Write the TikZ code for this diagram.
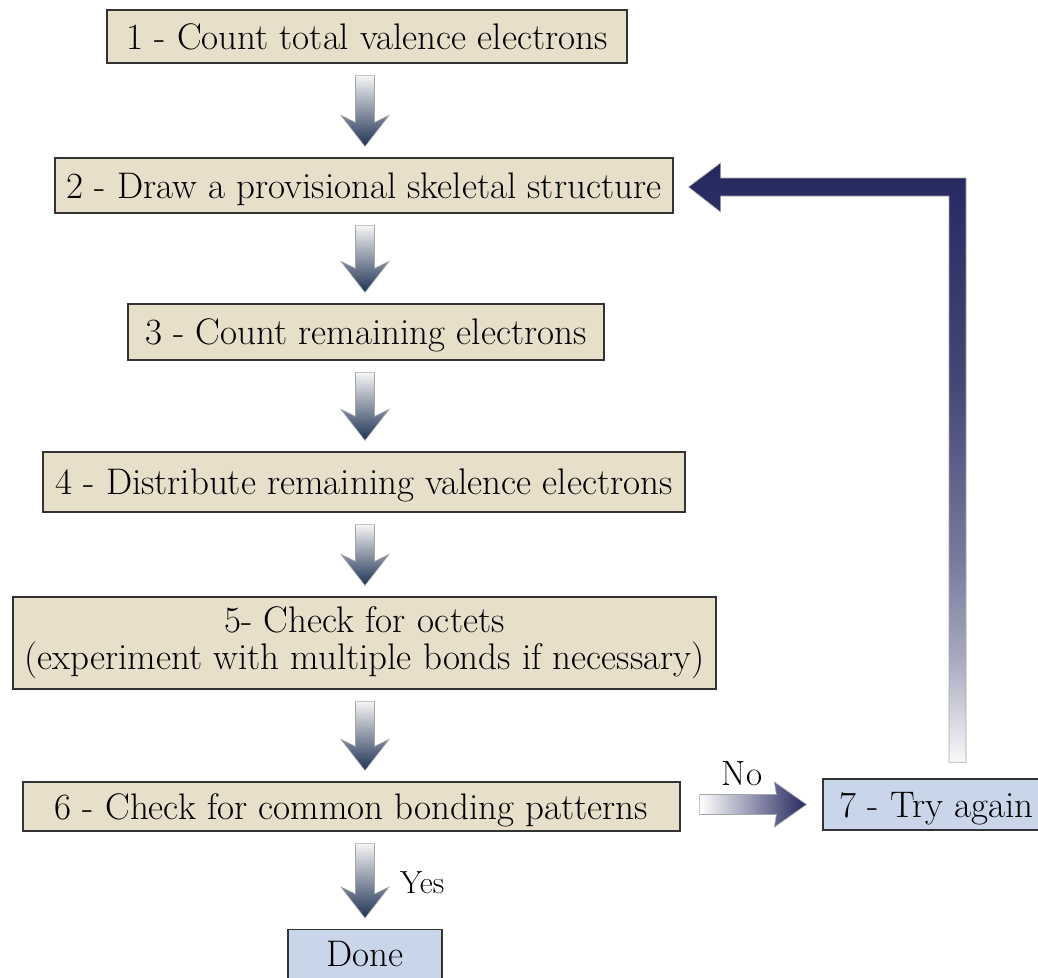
\documentclass[tikz,border=0pt]{standalone}
\usetikzlibrary{calc}
\definecolor{tanfill}{HTML}{E8DFCB}
\definecolor{lbluefill}{HTML}{C9D5E9}
\definecolor{arrnavy}{HTML}{1F3354}
\definecolor{fbnavy}{HTML}{25285F}
\colorlet{fbA}{fbnavy!40!white}
\colorlet{fbB}{fbnavy!62!white}
\colorlet{fbC}{fbnavy!86!white}
\colorlet{fbW}{fbnavy!3!white}
\pgfdeclareverticalshading{fbgrad}{100bp}{color(0bp)=(fbW); color(25bp)=(fbW); color(33.6bp)=(fbA); color(42bp)=(fbB); color(57bp)=(fbC); color(75bp)=(fbnavy); color(100bp)=(fbnavy)}
\newcommand\flowdown[2]{%
  \path[downshade] let \p1=(ax |- #1.south), \p2=(ax |- #2.north) in
    (\x1-9.5pt,\y1-12pt) -- (\x1+9.5pt,\y1-12pt) -- (\x1+9.5pt,\y2+35pt)
    -- (\x1+24pt,\y2+42pt) -- (\x1,\y2+11pt) -- (\x1-24pt,\y2+42pt)
    -- (\x1-9.5pt,\y2+35pt) -- cycle;}
\begin{document}
\begin{tikzpicture}[x=1pt,y=-1pt,
  box/.style={draw=black!80, line width=1.2pt, inner sep=0pt,
    font=\fontsize{37}{33}\selectfont, align=center},
  one/.style={text height=25pt, text depth=0pt},
  tanbox/.style={box, fill=tanfill},
  bluebox/.style={box, fill=lbluefill},
  downshade/.style={draw=black!35, line width=0.6pt, top color=black!4, bottom color=arrnavy},
  noshade/.style={draw=black!35, line width=0.6pt, left color=white, right color=fbnavy},
  fbshade/.style={draw=black!35, line width=0.6pt, shading=fbgrad},
  lbl/.style={inner sep=0pt}]
\useasboundingbox (0,0) rectangle (1038,977);
\coordinate (ax) at (365,0);
\coordinate (fb) at (957.5,0);
\node[tanbox,one,minimum width=520pt,minimum height=53pt] (b1) at (367,36.5) {1 - Count total valence electrons};
\node[tanbox,one,minimum width=618pt,minimum height=55pt] (b2) at (364,185.5) {2 - Draw a provisional skeletal structure};
\node[tanbox,one,minimum width=476pt,minimum height=56pt] (b3) at (366,332) {3 - Count remaining electrons};
\node[tanbox,one,minimum width=642pt,minimum height=60pt] (b4) at (364,482) {4 - Distribute remaining valence electrons};
\node[tanbox,font=\fontsize{37}{37}\selectfont,minimum width=703pt,minimum height=92pt] (b5) at (364.5,643) {5- Check for octets\\(experiment with multiple bonds if necessary)};
\node[tanbox,one,minimum width=657pt,minimum height=49pt] (b6) at (351.5,806.5) {6 - Check for common bonding patterns};
\node[bluebox,one,minimum width=227pt,minimum height=51pt] (b7) at (936.5,804.5) {7 - Try again};
\node[bluebox,text height=25pt,text depth=12pt,minimum width=154pt,minimum height=61pt,anchor=north] (done) at (365,929) {Done};
\flowdown{b1}{b2}
\flowdown{b2}{b3}
\flowdown{b3}{b4}
\flowdown{b4}{b5}
\flowdown{b5}{b6}
\flowdown{b6}{done}
% No arrow
\path[noshade] let \p1=(b6.east |- b7.west), \p2=(b7.west) in
  (\x1+19pt,\y2+10pt) -- (\x2-46pt,\y2+10pt) -- (\x2-48pt,\y2+22.5pt)
  -- (\x2-16pt,\y2) -- (\x2-48pt,\y2-22.5pt) -- (\x2-46pt,\y2-10pt)
  -- (\x1+19pt,\y2-10pt) -- cycle;
\node[lbl,font=\fontsize{35}{35}\selectfont,anchor=base] (no) at (742,785) {No};
\node[lbl,font=\fontsize{32}{32}\selectfont,anchor=base west] (yes) at (400,893) {Yes};
% feedback arrow
\path[fbshade] let \p1=(fb |- b7.north), \p2=(b2.east) in
  (\x1-8.5pt,\y1+16pt) -- (\x1-8.5pt,\y2-10.5pt) -- (\x2+47pt,\y2-10.5pt)
  -- (\x2+47pt,\y2-26.5pt) -- (\x2+15pt,\y2-1.5pt) -- (\x2+47pt,\y2+22.5pt)
  -- (\x2+47pt,\y2+7.5pt) -- (\x1+8.5pt,\y2+7.5pt) -- (\x1+8.5pt,\y1+16pt) -- cycle;
\end{tikzpicture}
\end{document}
